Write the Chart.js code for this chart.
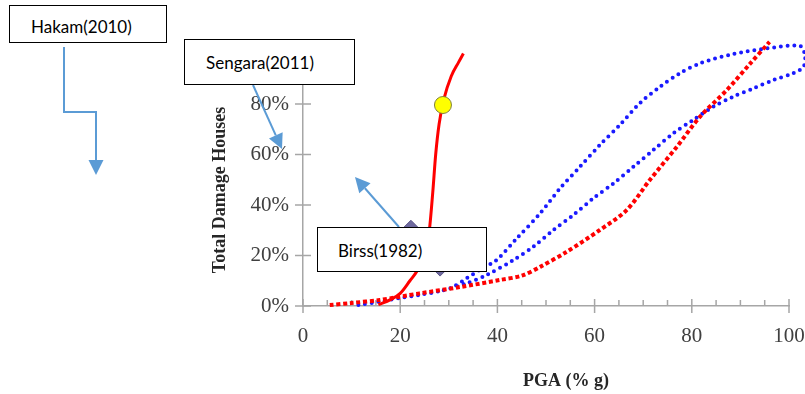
<!DOCTYPE html>
<html>
<head>
<meta charset="utf-8">
<script src="https://cdn.jsdelivr.net/npm/chart.js@4.4.1/dist/chart.umd.min.js"></script>
<style>
  html, body { margin:0; padding:0; background:#fff; overflow:hidden; }
  #wrap { position:relative; width:805px; height:394px; }
  #chart { position:absolute; left:0; top:0; }
  .note { position:absolute; background:#fff; border:1px solid #000; box-sizing:border-box;
          font-family: Lato, "Open Sans", sans-serif; font-size:17px; color:#000;
          display:flex; align-items:center; white-space:nowrap; }
</style>
</head>
<body>
<div id="wrap">
  <canvas id="chart" width="805" height="394"></canvas>
  <div class="note" style="left:9px;top:5px;width:158px;height:38px;padding:5px 0 0 21px;">Hakam(2010)</div>
  <div class="note" style="left:184px;top:39px;width:171px;height:46px;padding:1px 0 0 21px;">Sengara(2011)</div>
  <div class="note" style="left:317px;top:227px;width:170px;height:45px;padding:1px 0 0 20px;">Birss(1982)</div>
</div>
<script>
// tick values (PGA % g and damage %)
let xTicks = [0, 20, 40, 60, 80, 100]
let yTicks = [0, 20, 40, 60, 80, 100]

// solid red curve
let sengaraX = [15.5, 18, 20, 22, 23.5, 25, 26, 26.7, 27.3, 28, 29, 30.5, 32, 33]
let sengaraY = [0.5, 2.5, 5, 10, 14, 20, 30, 45, 60, 72, 82, 91, 96.5, 100]

// red square-dotted curve
let redDotX = [5.5, 10, 15.8, 24, 32.3, 40.5, 45, 48.8, 54.2, 61, 66.6, 71.4, 76.9, 81.7, 87.2, 92, 96]
let redDotY = [0.4, 1.2, 2.4, 5, 7.5, 10.3, 12, 15.5, 21.4, 30, 38, 50, 63, 75, 85.5, 96, 104.6]

// blue dotted loop (lower branch out, upper branch back)
let blueX = [11.4, 16, 20, 24, 28.2, 33.7, 37.8, 43.3, 47.4, 51.5, 55.6, 59.7, 63.9, 68, 72.1, 76.2, 80.3, 84.4, 88.5, 92.7, 96.8, 100.9, 103,
             103.3, 102.3, 95.4, 88.5, 81.7, 77.6, 73.5, 69.3, 65.2, 61.1, 57, 52.9, 48.8, 44, 39.8, 36.4, 33.7, 30.5, 28.2]
let blueY = [0.4, 1.8, 3.2, 4.4, 5.9, 9, 12.3, 18.2, 23.5, 30.1, 36, 42.6, 48.6, 55.2, 61.8, 68.4, 73.7, 78.9, 82.9, 86.2, 89.5, 92.2, 94.8,
             99, 103, 102, 99.8, 96.1, 92.2, 86.9, 80.3, 71.7, 63.8, 55.2, 46.6, 36.7, 26.8, 18.2, 14.3, 11, 7.2, 5.9]

// single markers
let circleX = [28.8], circleY = [79.6]
let diamondX = [22.2, 28.2], diamondY = [30, 15.8]

function pts(xs, ys) {
  let out = []
  for (let i = 0; i < xs.length; i++) out.push({x: xs[i], y: ys[i]})
  return out
}

const axisGray = '#A6A6A6'
const arrowBlue = '#5B9BD5'

function arrow(ctx, path) {
  const n = path.length
  const [tx, ty] = path[n - 1], [px, py] = path[n - 2]
  const ang = Math.atan2(ty - py, tx - px), head = 15, half = 7.5
  const bx = tx - head * Math.cos(ang), by = ty - head * Math.sin(ang)
  ctx.beginPath()
  ctx.moveTo(path[0][0], path[0][1])
  for (let i = 1; i < n - 1; i++) ctx.lineTo(path[i][0], path[i][1])
  ctx.lineTo(bx, by)
  ctx.stroke()
  ctx.beginPath()
  ctx.moveTo(tx, ty)
  ctx.lineTo(bx + half * Math.sin(ang), by - half * Math.cos(ang))
  ctx.lineTo(bx - half * Math.sin(ang), by + half * Math.cos(ang))
  ctx.closePath()
  ctx.fill()
}

const decor = {
  id: 'decor',
  beforeDatasetsDraw(chart) {
    const {ctx, chartArea, scales: {x, y}} = chart
    ctx.save()
    ctx.strokeStyle = axisGray
    ctx.lineWidth = 1.5
    ctx.beginPath()
    yTicks.forEach(v => {
      const py = y.getPixelForValue(v)
      ctx.moveTo(chartArea.left - 8, py); ctx.lineTo(chartArea.left + 8, py)
    })
    for (let v = 0; v <= 100; v += 5) {
      const px = x.getPixelForValue(v)
      if (v % 20 === 0) { ctx.moveTo(px, chartArea.bottom - 7); ctx.lineTo(px, chartArea.bottom + 7) }
      else { ctx.moveTo(px, chartArea.bottom - 6); ctx.lineTo(px, chartArea.bottom) }
    }
    ctx.stroke()
    ctx.restore()
  },
  afterDraw(chart) {
    const {ctx} = chart
    ctx.save()
    ctx.fillStyle = '#262626'
    ctx.font = 'bold 18px "Liberation Serif", "Times New Roman", serif'
    ctx.textAlign = 'center'
    ctx.textBaseline = 'middle'
    ctx.fillText('PGA (% g)', 566, 381)
    ctx.translate(220, 190)
    ctx.rotate(-Math.PI / 2)
    ctx.fillText('Total Damage Houses', 0, 0)
    ctx.restore()

    ctx.save()
    ctx.strokeStyle = arrowBlue
    ctx.fillStyle = arrowBlue
    ctx.lineWidth = 2
    arrow(ctx, [[64, 47], [64, 112], [96, 112], [96, 175]])
    arrow(ctx, [[253, 85], [282, 149]])
    arrow(ctx, [[399, 227], [355, 177]])
    ctx.restore()
  }
}

let ctx = document.getElementById('chart').getContext('2d')
let myChart = new Chart(ctx, {
  type: 'scatter',
  data: {
    datasets: [
      {
        label: 'circle',
        data: pts(circleX, circleY),
        pointRadius: 8.5,
        backgroundColor: '#FFFF00',
        borderColor: '#7F7F3F',
        borderWidth: 1,
        clip: false
      },
      {
        label: 'diamond',
        data: pts(diamondX, diamondY),
        pointStyle: 'rectRot',
        pointRadius: 10,
        backgroundColor: '#6F6A9F',
        borderColor: '#5A5588',
        borderWidth: 1,
        clip: false
      },
      {
        label: 'Sengara(2011)',
        data: pts(sengaraX, sengaraY),
        showLine: true,
        borderColor: '#FF0000',
        borderWidth: 3,
        pointRadius: 0,
        cubicInterpolationMode: 'monotone',
        clip: false
      },
      {
        label: 'Birss(1982)',
        data: pts(redDotX, redDotY),
        showLine: true,
        borderColor: '#FF0000',
        borderWidth: 4,
        borderDash: [4, 2.7],
        borderCapStyle: 'butt',
        pointRadius: 0,
        tension: 0.3,
        clip: false
      },
      {
        label: 'Hakam(2010)',
        data: pts(blueX, blueY),
        showLine: true,
        borderColor: '#1A1AFF',
        borderWidth: 4,
        borderDash: [0, 6.7],
        borderCapStyle: 'round',
        pointRadius: 0,
        tension: 0.3,
        clip: false
      }
    ]
  },
  options: {
    responsive: false,
    animation: false,
    layout: { padding: { top: 53.5, right: 16, bottom: 0, left: 0 } },
    plugins: { legend: { display: false }, tooltip: { enabled: false } },
    scales: {
      x: {
        type: 'linear',
        min: 0, max: 100,
        afterBuildTicks(s) { s.ticks = xTicks.map(v => ({value: v})) },
        afterFit(s) { s.height = 88; s.paddingLeft = 0; s.paddingRight = 0 },
        grid: { display: false, drawTicks: false },
        border: { display: true, color: axisGray, width: 1.5 },
        ticks: {
          padding: 18,
          color: '#404040',
          font: { family: '"Liberation Serif", "Times New Roman", serif', size: 21 }
        }
      },
      y: {
        min: 0, max: 100,
        afterBuildTicks(s) { s.ticks = yTicks.map(v => ({value: v})) },
        afterFit(s) { s.width = 303; s.paddingTop = 0; s.paddingBottom = 0 },
        grid: { display: false, drawTicks: false },
        border: { display: true, color: axisGray, width: 1.5 },
        ticks: {
          padding: 14,
          color: '#404040',
          font: { family: '"Liberation Serif", "Times New Roman", serif', size: 21 },
          callback: v => v + '%'
        }
      }
    }
  },
  plugins: [decor]
})
</script>
</body>
</html>
